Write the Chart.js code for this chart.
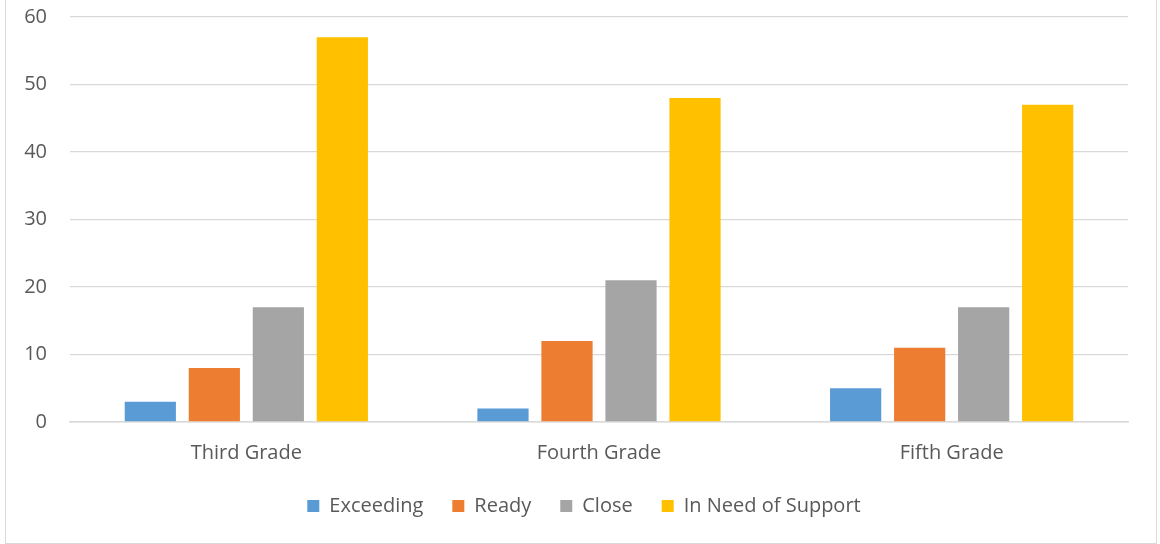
<!DOCTYPE html>
<html>
<head>
<meta charset="utf-8">
<title>Grade readiness</title>
<script src="https://cdn.jsdelivr.net/npm/chart.js@4/dist/chart.umd.min.js"></script>
<style>
  html, body { margin: 0; padding: 0; background: #fff; }
  #frame {
    position: absolute; left: 5px; top: -1px;
    width: 1150px; height: 543px;
    border: 1px solid #d9d9d9;
    background: #fff;
  }
  #grafico { display: block; }
</style>
</head>
<body>
<div id="frame">
  <canvas id="grafico" width="1150" height="543"></canvas>
</div>
<script>
// categorias e séries
const grades = ['Third Grade', 'Fourth Grade', 'Fifth Grade'];
const exceeding = [3, 2, 5];
const ready = [8, 12, 11];
const close = [17, 21, 17];
const needSupport = [57, 48, 47];

const seriesNames = ['Exceeding', 'Ready', 'Close', 'In Need of Support'];
const seriesColors = ['#5B9BD5', '#ED7D31', '#A5A5A5', '#FFC000'];
const seriesValues = [exceeding, ready, close, needSupport];

const textColor = '#595959';
const gridColor = '#d9d9d9';
const fontFamily = '"Open Sans", "Liberation Sans", sans-serif';

// legenda centrada na largura toda, não só até o padding da direita
const legendShift = {
    id: 'legendShift',
    afterLayout(chart) {
        if (chart.legend) {
            chart.legend.left += 17;
            chart.legend.right += 17;
        }
    }
};

const ctx = document.getElementById('grafico').getContext('2d');
new Chart(ctx, {
    type: 'bar',
    data: {
        labels: grades,
        datasets: seriesNames.map((nome, i) => ({
            label: nome,
            data: seriesValues[i],
            backgroundColor: seriesColors[i],
            borderWidth: 0,
            barPercentage: 0.8,
            categoryPercentage: 0.726
        }))
    },
    options: {
        responsive: false,
        animation: false,
        layout: { padding: { top: 17, right: 28, bottom: 17, left: 0 } },
        plugins: {
            tooltip: { enabled: false },
            legend: {
                position: 'bottom',
                labels: {
                    color: textColor,
                    font: { family: fontFamily, size: 20 },
                    boxWidth: 12,
                    boxHeight: 12,
                    padding: 29
                }
            }
        },
        scales: {
            x: {
                grid: { display: false, drawTicks: false },
                border: { color: gridColor, width: 1.5 },
                ticks: {
                    color: textColor,
                    font: { family: fontFamily, size: 20 },
                    padding: 19
                },
                afterFit: scale => { scale.height = 45; }
            },
            y: {
                min: 0,
                max: 60,
                ticks: {
                    stepSize: 10,
                    color: textColor,
                    font: { family: fontFamily, size: 20 },
                    padding: 23
                },
                grid: { color: gridColor, lineWidth: 1.3, drawTicks: false },
                border: { display: false },
                afterFit: scale => {
                    // largura fixa e sem reserva extra em cima/baixo
                    scale.width = 64;
                    scale.paddingTop = 0;
                    scale.paddingBottom = 0;
                }
            }
        }
    },
    plugins: [legendShift]
});
</script>
</body>
</html>
